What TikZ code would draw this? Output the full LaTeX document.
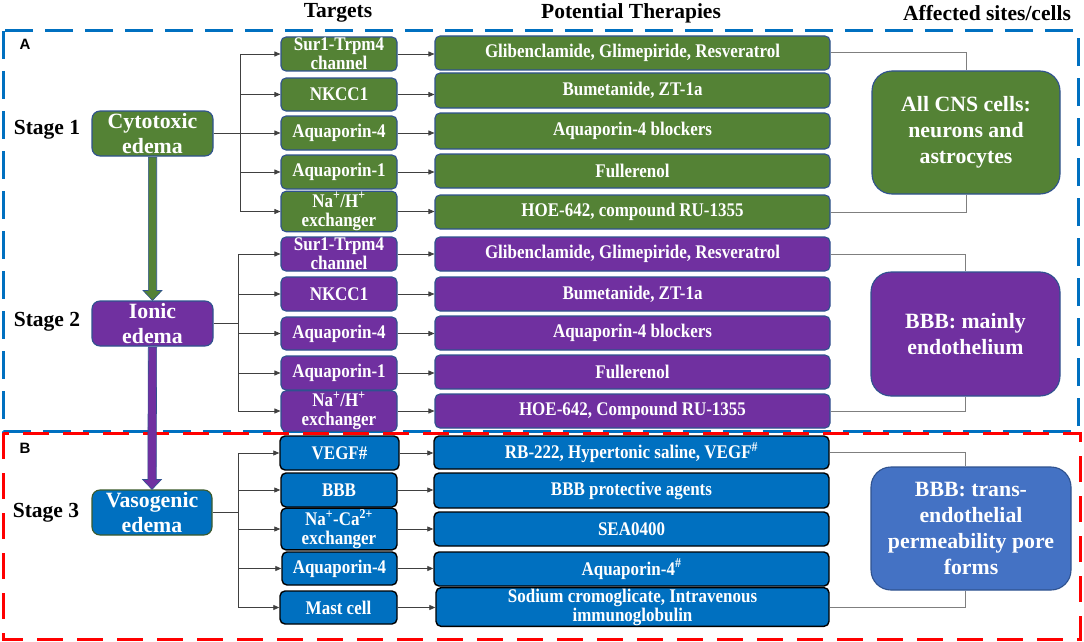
\documentclass[tikz,border=0pt]{standalone}
\usepackage{fontspec}
\setmainfont{Liberation Serif}
\setsansfont{Liberation Sans}
\newfontfamily\boxfont[FakeStretch=0.88]{Liberation Serif}
\usetikzlibrary{arrows.meta,calc}
\definecolor{cgreen}{HTML}{548235}
\definecolor{cpurple}{HTML}{7030A0}
\definecolor{cblue}{HTML}{0070C0}
\definecolor{cblueb}{HTML}{4472C4}
\definecolor{cborder}{HTML}{2F528F}
\definecolor{colive}{HTML}{3B5A2B}
\definecolor{cgray}{HTML}{7F7F7F}
\definecolor{cline}{HTML}{404040}
\newcommand\boxat[7]{\node[#6, minimum width={(#4)-(#2)}, minimum height={(#5)-(#3)}] (#1) at ({((#2)+(#4))/2},{((#3)+(#5))/2}) {#7};}
\begin{document}
\begin{tikzpicture}[x=1pt,y=-1pt,
  basebox/.style={rounded corners=5pt, inner sep=1pt, align=center, text=white},
  smtxt/.style={font=\boxfont\bfseries\fontsize{19.3}{19}\selectfont},
  lgtxt/.style={font=\bfseries\fontsize{21.8}{25}\selectfont},
  aftxt/.style={font=\bfseries\fontsize{21.8}{26}\selectfont},
  gbox/.style={basebox, smtxt, fill=cgreen, draw=cborder, line width=1.1pt},
  pbox/.style={basebox, smtxt, fill=cpurple, draw=cborder, line width=1.1pt},
  bbox/.style={basebox, smtxt, fill=cblue, draw=black, line width=1.4pt},
  ge/.style={basebox, lgtxt, rounded corners=8pt, fill=cgreen, draw=cborder, line width=1.1pt},
  pe/.style={basebox, lgtxt, rounded corners=8pt, fill=cpurple, draw=cborder, line width=1.1pt},
  be/.style={basebox, lgtxt, rounded corners=8pt, fill=cblue, draw=colive, line width=1.1pt},
  ga/.style={basebox, aftxt, rounded corners=20pt, fill=cgreen, draw=cborder, line width=1.1pt},
  pa/.style={basebox, aftxt, rounded corners=20pt, fill=cpurple, draw=cborder, line width=1.1pt},
  ba/.style={basebox, aftxt, rounded corners=20pt, fill=cblueb, draw=cborder, line width=1.1pt},
  hdr/.style={font=\bfseries\fontsize{21.5}{25}\selectfont, inner sep=0pt},
  stg/.style={font=\bfseries\fontsize{21.5}{25}\selectfont, inner sep=0pt},
  lbl/.style={font=\sffamily\bfseries\fontsize{15}{18}\selectfont, inner sep=0pt},
  fork/.style={draw=cline, line width=0.8pt},
  tip/.style={-{Triangle[length=6pt,width=5pt]}},
  gline/.style={draw=cgray, line width=1pt},
  panelA/.style={draw=cblue, line width=3pt, dash pattern=on 28pt off 12pt},
  panelB/.style={draw=red, line width=3pt, dash pattern=on 26pt off 14pt},
  barrowg/.style={fill=cgreen, draw=cborder, line width=0.6pt},
  barrowp/.style={fill=cpurple, draw=cborder, line width=0.6pt}
]
\useasboundingbox[fill=white] (0,0) rectangle (1084,642);
\draw[panelA] (3,31) rectangle (1078,431);
\draw[panelB] (3,433) rectangle (1080,639);

\node[hdr] (hT) at (338,13) {Targets};
\node[hdr] (hP) at (631,13) {Potential Therapies};
\node[hdr] (hA) at (987,13) {Affected sites/cells};
\node[lbl] (lA) at (25,44) {A};
\node[lbl] (lB) at (25,448) {B};
\node[stg] (s1) at (47,130) {Stage 1};
\node[stg] (s2) at (47,322) {Stage 2};
\node[stg] (s3) at (46,513) {Stage 3};

% edema boxes
\boxat{e1}{92}{111}{213}{156}{ge}{Cytotoxic\\edema}
\boxat{e2}{92}{301}{213}{346}{pe}{Ionic\\edema}
\boxat{e3}{92}{490}{212}{535}{be}{Vasogenic\\edema}

% targets stage 1
\boxat{t11}{281}{37}{397}{71}{gbox}{Sur1-Trpm4\\channel}
\boxat{t12}{281}{78}{397}{111}{gbox}{NKCC1}
\boxat{t13}{281}{116}{397}{150}{gbox}{Aquaporin-4}
\boxat{t14}{281}{155}{397}{189}{gbox}{Aquaporin-1}
\boxat{t15}{281}{195}{397}{228}{gbox}{Na\textsuperscript{+}/H\textsuperscript{+}\\exchanger}
% targets stage 2
\boxat{t21}{281}{237}{397}{271}{pbox}{Sur1-Trpm4\\channel}
\boxat{t22}{281}{277}{397}{311}{pbox}{NKCC1}
\boxat{t23}{281}{317}{397}{350}{pbox}{Aquaporin-4}
\boxat{t24}{281}{356}{397}{390}{pbox}{Aquaporin-1}
\boxat{t25}{281}{394}{397}{428}{pbox}{Na\textsuperscript{+}/H\textsuperscript{+}\\exchanger}
% targets stage 3
\boxat{t31}{280}{436}{399}{470}{bbox}{VEGF\#}
\boxat{t32}{281}{473}{397}{507}{bbox}{BBB}
\boxat{t33}{281}{512}{397}{546}{bbox}{Na\textsuperscript{+}-Ca\textsuperscript{2+}\\exchanger}
\boxat{t34}{282}{552}{397}{585}{bbox}{Aquaporin-4}
\boxat{t35}{280}{591}{397}{624}{bbox}{Mast cell}

% therapies stage 1
\boxat{p11}{435}{36}{830}{70}{gbox}{Glibenclamide, Glimepiride, Resveratrol}
\boxat{p12}{435}{73}{830}{108}{gbox}{Bumetanide, ZT-1a}
\boxat{p13}{435}{113}{830}{149}{gbox}{Aquaporin-4 blockers}
\boxat{p14}{435}{154}{830}{188}{gbox}{Fullerenol}
\boxat{p15}{435}{195}{830}{229}{gbox}{HOE-642, compound RU-1355}
% therapies stage 2
\boxat{p21}{435}{237}{830}{271}{pbox}{Glibenclamide, Glimepiride, Resveratrol}
\boxat{p22}{435}{277}{830}{311}{pbox}{Bumetanide, ZT-1a}
\boxat{p23}{435}{316}{830}{350}{pbox}{Aquaporin-4 blockers}
\boxat{p24}{435}{355}{830}{389}{pbox}{Fullerenol}
\boxat{p25}{435}{394}{830}{428}{pbox}{HOE-642, Compound RU-1355}
% therapies stage 3
\boxat{p31}{434}{436}{829}{469}{bbox}{RB-222, Hypertonic saline, VEGF\textsuperscript{\#}}
\boxat{p32}{434}{473}{829}{508}{bbox}{BBB protective agents}
\boxat{p33}{434}{512}{829}{546}{bbox}{SEA0400}
\boxat{p34}{434}{552}{829}{586}{bbox}{Aquaporin-4\textsuperscript{\#}}
\boxat{p35}{436}{590}{829}{624}{bbox}{Sodium cromoglicate, Intravenous\\immunoglobulin}

% affected
\boxat{a1}{872}{71}{1060}{194}{ga}{All CNS cells:\\neurons and\\astrocytes}
\boxat{a2}{871}{272}{1060}{396}{pa}{BBB: mainly\\endothelium}
\boxat{a3}{871}{467}{1071}{590}{ba}{BBB: trans-\\endothelial\\permeability pore\\forms}

% block arrows between stages
\path[barrowg] ($(e1.south)+(-4.2,0.6)$) -- ($(e2.north)+(-4.2,-10)$) -- ($(e2.north)+(-9.5,-10)$) -- (e2.north) -- ($(e2.north)+(9.5,-10)$) -- ($(e2.north)+(4.2,-10)$) -- ($(e1.south)+(4.2,0.6)$) -- cycle;
\path[barrowp] ($(e2.south)+(-4.2,0.6)$) -- ($(e3.north)+(-4.2,-10)$) -- ($(e3.north)+(-9.5,-10)$) -- (e3.north) -- ($(e3.north)+(9.5,-10)$) -- ($(e3.north)+(4.2,-10)$) -- ($(e2.south)+(4.2,0.6)$) -- cycle;

% forks
\coordinate (f1) at (240,0);
\coordinate (f2) at (238,0);
\coordinate (f3) at (238,0);
\draw[fork] (e1.east) -- (e1.east -| f1);
\draw[fork] (e2.east) -- (e2.east -| f2);
\draw[fork] (e3.east) -- (e3.east -| f3);
\draw[fork] (f1 |- t11.west) -- (f1 |- t15.west);
\draw[fork] (f2 |- t21.west) -- (f2 |- t25.west);
\draw[fork] (f3 |- t31.west) -- (f3 |- t35.west);
\foreach \s in {1,2,3}{
  \foreach \i in {1,...,5}{
    \draw[fork,tip] (f\s |- t\s\i.west) -- (t\s\i.west);
    \draw[fork,tip] (t\s\i.east) -- (t\s\i.east -| p\s\i.west);
  }
}

% lines to affected sites
\draw[gline] (p11.east) -| (a1.north);
\draw[gline] (a1.south) |- (p15.east);
\draw[gline] (p21.east) -| (a2.north);
\draw[gline] (a2.south) |- (p25.east);
\draw[gline] (p31.east) -| ($(a3.north)+(-6,0)$);
\draw[gline] ($(a3.south)+(-6,0)$) |- (p35.east);
\end{tikzpicture}
\end{document}
